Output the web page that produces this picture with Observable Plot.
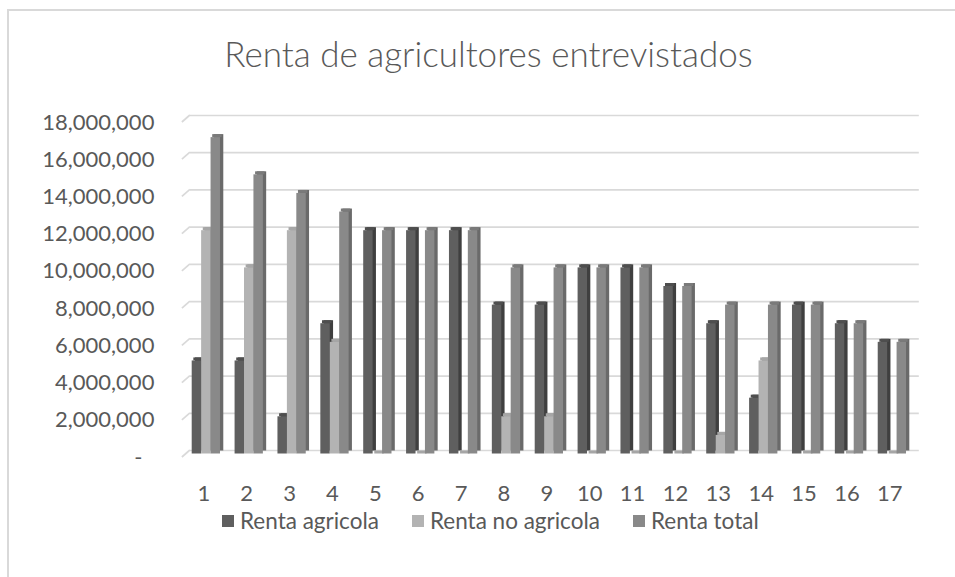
<!DOCTYPE html>
<html>
<head>
<meta charset="utf-8">
<script src="https://cdn.jsdelivr.net/npm/d3@7"></script>
<script src="https://cdn.jsdelivr.net/npm/@observablehq/plot@0.6"></script>
<style>
html, body { margin: 0; padding: 0; background: #fff; width: 955px; height: 577px; overflow: hidden; font-family: Lato, "Open Sans", sans-serif; }
#frame { position: absolute; left: 7px; top: 9px; width: 963px; height: 700px; border: 2px solid #d9d9d9; box-sizing: border-box; }
#title { position: absolute; left: 7px; width: 963px; top: 33px; line-height: 40px; text-align: center; font-size: 35px; font-weight: 300; color: #595959; }
#chart { position: absolute; left: 0; top: 100px; }
#legend { position: absolute; left: 222px; top: 507px; display: flex; align-items: center; gap: 33px; font-size: 22.5px; line-height: 28px; color: #595959; }
#legend .item { display: flex; align-items: center; }
#legend .sw { width: 12px; height: 12px; margin-right: 6px; }
</style>
</head>
<body>
<div id="frame"></div>
<div id="title">Renta de agricultores entrevistados</div>
<div id="chart"></div>
<div id="legend"></div>
<script>
// ---- data ----
const categories = ["1","2","3","4","5","6","7","8","9","10","11","12","13","14","15","16","17"];
const seriesNames = ["Renta agricola", "Renta no agricola", "Renta total"];
const rentaAgricola   = [5000000, 5000000, 2000000, 7000000, 12000000, 12000000, 12000000, 8000000, 8000000, 10000000, 10000000, 9000000, 7000000, 3000000, 8000000, 7000000, 6000000];
const rentaNoAgricola = [12000000, 10000000, 12000000, 6000000, 0, 0, 0, 2000000, 2000000, 0, 0, 0, 1000000, 5000000, 0, 0, 0];
const rentaTotal      = [17000000, 15000000, 14000000, 13000000, 12000000, 12000000, 12000000, 10000000, 10000000, 10000000, 10000000, 9000000, 8000000, 8000000, 8000000, 7000000, 6000000];
const yTicks = [0, 2000000, 4000000, 6000000, 8000000, 10000000, 12000000, 14000000, 16000000, 18000000];

// ---- styles ----
const frontColors = ["#5f5f5f", "#b3b3b3", "#898989"];
const sideColors  = ["#3f3f3f", "#979797", "#6a6a6a"];
const topColors   = ["#4e4e4e", "#a6a6a6", "#7a7a7a"];

const seriesValues = [rentaAgricola, rentaNoAgricola, rentaTotal];

const W = 955, H = 410;
const marginLeft = 181.9, marginRight = 44.2, marginTop = 22, marginBottom = 53;
const step = (W - marginLeft - marginRight) / categories.length;
const barW = 9.43, firstOffset = 9.8, depthX = 3.3, depthY = 3, lift = 3.5;

const marks = [];
// back wall gridlines
marks.push(Plot.ruleY(yTicks, {stroke: "#d9d9d9", strokeWidth: 1.7, dx: 8, dy: -7}));
// slanted joins from the front edge to the back wall
marks.push((index, scales, values, dimensions) => {
  const g = d3.create("svg:g").attr("stroke", "#d9d9d9").attr("stroke-width", 1.7);
  for (const t of yTicks) {
    const y = scales.y(t);
    g.append("line").attr("x1", dimensions.marginLeft).attr("y1", y)
      .attr("x2", dimensions.marginLeft + 8).attr("y2", y - 7);
  }
  return g.node();
});

seriesValues.forEach((vals, k) => {
  const rows = categories.map((c, i) => ({cat: c, value: vals[i]}));
  const L = firstOffset + k * barW;
  const R = step - L - barW;
  // side face
  marks.push(Plot.barY(rows, {x: "cat", y: "value", fill: sideColors[k], insetLeft: L + depthX, insetRight: R - depthX, dy: -lift - depthY}));
  // top face
  marks.push(Plot.barY(rows, {x: "cat", y1: "value", y2: "value", fill: topColors[k], insetLeft: L, insetRight: R, insetTop: -depthY, dx: depthX / 2, dy: -lift}));
  // front face
  marks.push(Plot.barY(rows, {x: "cat", y: "value", fill: frontColors[k], insetLeft: L, insetRight: R, dy: -lift}));
});

marks.push(Plot.axisY({ticks: yTicks.filter(t => t !== 0), tickSize: 0, tickPadding: 28, fontSize: 22, tickFormat: d3.format(",")}));
marks.push(Plot.axisY({ticks: [0], tickSize: 0, tickPadding: 40, fontSize: 22, tickFormat: () => "-"}));
marks.push(Plot.axisX({tickSize: 0, tickPadding: 28, fontSize: 22}));

const chart = Plot.plot({
  width: W, height: H,
  marginLeft, marginRight, marginTop, marginBottom,
  style: {fontFamily: "Lato, 'Open Sans', sans-serif", color: "#595959", background: "transparent"},
  x: {type: "band", domain: categories, paddingInner: 0, paddingOuter: 0, round: false, label: null},
  y: {domain: [0, 18000000], label: null},
  marks
});
document.getElementById("chart").appendChild(chart);

// legend
const legend = document.getElementById("legend");
seriesNames.forEach((name, k) => {
  const item = document.createElement("div");
  item.className = "item";
  const sw = document.createElement("div");
  sw.className = "sw";
  sw.style.background = frontColors[k];
  const label = document.createElement("span");
  label.textContent = name;
  item.appendChild(sw);
  item.appendChild(label);
  legend.appendChild(item);
});
</script>
</body>
</html>
